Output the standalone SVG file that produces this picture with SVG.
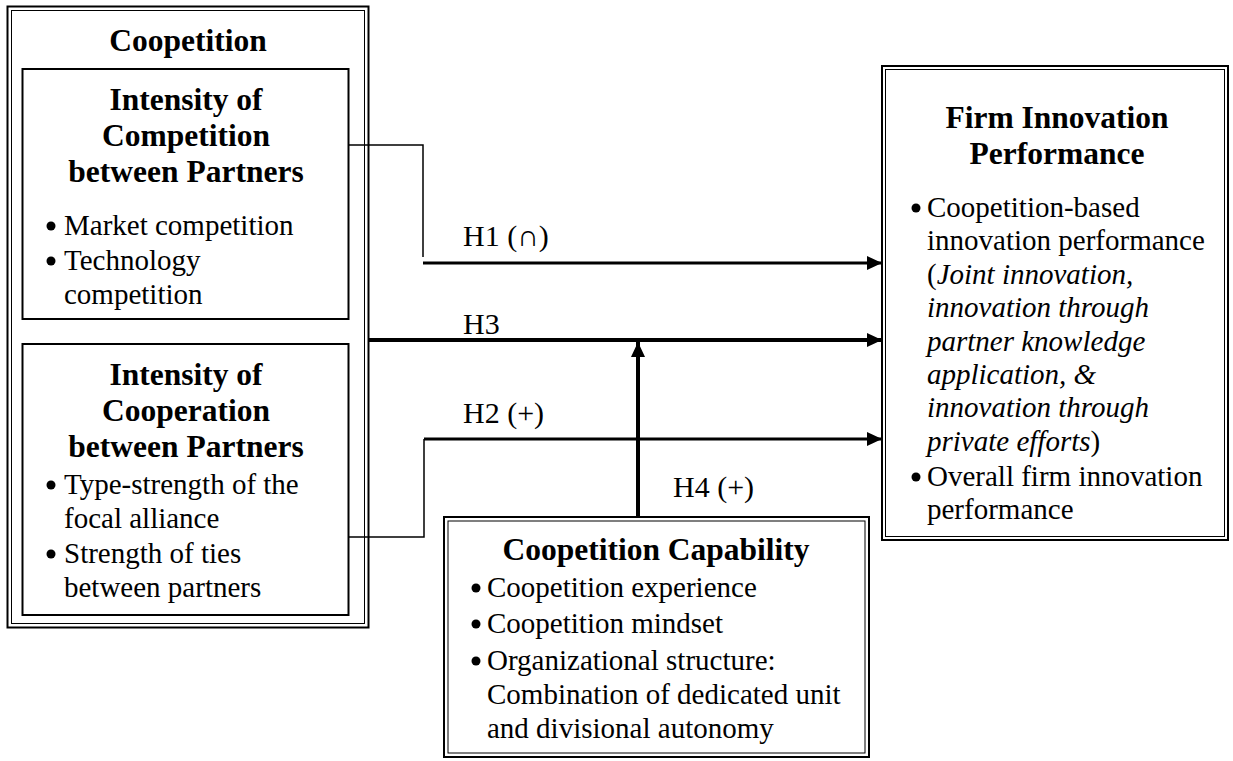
<svg xmlns="http://www.w3.org/2000/svg" width="1233" height="761" viewBox="0 0 1233 761">
  <style>
    text { font-family: "Liberation Serif", "Times New Roman", serif; fill: #000; }
    .head { font-size: 31.5px; font-weight: bold; text-anchor: middle; }
    .body { font-size: 29px; }
    .lab { font-size: 30px; }
    .it { font-style: italic; }
    .outer { fill: none; stroke: #000; stroke-width: 2; }
    .inner { fill: none; stroke: #000; stroke-width: 1; }
    .box { fill: none; stroke: #000; stroke-width: 2; }
    .dot { fill: #000; }
    .thin { fill: none; stroke: #000; stroke-width: 1.5; }
    .arr { fill: none; stroke: #000; stroke-width: 3; marker-end: url(#head); }
    .arr4 { fill: none; stroke: #000; stroke-width: 4; marker-end: url(#head); }
  </style>
  <defs>
    <marker id="head" markerUnits="userSpaceOnUse" markerWidth="16" markerHeight="16" refX="15" refY="7" orient="auto">
      <path d="M0,0 L15,7 L0,14 Z" fill="#000"/>
    </marker>
  </defs>
  <rect width="1233" height="761" fill="#fff"/>

  <!-- Coopetition container with its two sub-constructs -->
  <g id="coopetition">
    <rect class="outer" x="7.5" y="6.5" width="361" height="621"/>
    <rect class="inner" x="11.5" y="10.5" width="353" height="613"/>
    <text class="head" x="188" y="51">Coopetition</text>
  </g>

  <g id="competition">
    <rect class="box" x="22.5" y="69" width="326" height="250"/>
    <text class="head" x="186" y="110">Intensity of</text>
    <text class="head" x="186" y="146">Competition</text>
    <text class="head" x="186" y="182">between Partners</text>
    <circle class="dot" cx="51" cy="226" r="4.5"/>
    <text class="body" x="64" y="235">Market competition</text>
    <circle class="dot" cx="51" cy="261" r="4.5"/>
    <text class="body" x="64" y="270">Technology</text>
    <text class="body" x="64" y="304">competition</text>
  </g>

  <g id="cooperation">
    <rect class="box" x="22.5" y="344" width="326" height="271"/>
    <text class="head" x="186" y="385">Intensity of</text>
    <text class="head" x="186" y="421">Cooperation</text>
    <text class="head" x="186" y="457">between Partners</text>
    <circle class="dot" cx="51" cy="485" r="4.5"/>
    <text class="body" x="64" y="494">Type-strength of the</text>
    <text class="body" x="64" y="528">focal alliance</text>
    <circle class="dot" cx="51" cy="554" r="4.5"/>
    <text class="body" x="64" y="563">Strength of ties</text>
    <text class="body" x="64" y="597">between partners</text>
  </g>

  <!-- Outcome construct -->
  <g id="performance">
    <rect class="outer" x="882" y="66" width="346" height="474"/>
    <rect class="inner" x="885.5" y="69.5" width="339" height="467"/>
    <text class="head" x="1057" y="128">Firm Innovation</text>
    <text class="head" x="1057" y="164">Performance</text>
    <circle class="dot" cx="916" cy="208" r="4.5"/>
    <text class="body" x="927" y="217">Coopetition-based</text>
    <text class="body" x="927" y="250">innovation performance</text>
    <text class="body" x="927" y="284">(<tspan class="it">Joint innovation,</tspan></text>
    <text class="body it" x="927" y="317">innovation through</text>
    <text class="body it" x="927" y="351">partner knowledge</text>
    <text class="body it" x="927" y="384">application, &amp;</text>
    <text class="body it" x="927" y="417">innovation through</text>
    <text class="body" x="927" y="451"><tspan class="it">private efforts</tspan>)</text>
    <circle class="dot" cx="916" cy="477" r="4.5"/>
    <text class="body" x="927" y="486">Overall firm innovation</text>
    <text class="body" x="927" y="519">performance</text>
  </g>

  <!-- Moderator construct -->
  <g id="capability">
    <rect class="outer" x="444" y="517" width="425" height="240"/>
    <rect class="inner" x="448" y="521" width="417" height="232"/>
    <text class="head" x="656" y="560">Coopetition Capability</text>
    <circle class="dot" cx="476" cy="588" r="4.5"/>
    <text class="body" x="487" y="597">Coopetition experience</text>
    <circle class="dot" cx="476" cy="624" r="4.5"/>
    <text class="body" x="487" y="633">Coopetition mindset</text>
    <circle class="dot" cx="476" cy="661" r="4.5"/>
    <text class="body" x="487" y="670">Organizational structure:</text>
    <text class="body" x="487" y="704">Combination of dedicated unit</text>
    <text class="body" x="487" y="738">and divisional autonomy</text>
  </g>

  <!-- Hypothesised paths -->
  <g id="connectors">
    <path class="thin" d="M348,145 H423 V257"/>
    <path class="arr" d="M423,263 H882"/>
    <path class="arr4" d="M369,340 H882"/>
    <path class="thin" d="M348,537 H424 V439"/>
    <path class="arr" d="M424,439 H882"/>
    <path class="arr4" d="M638,517 V342"/>
    <text class="lab" x="463" y="246">H1 (∩)</text>
    <text class="lab" x="463" y="334">H3</text>
    <text class="lab" x="463" y="423">H2 (+)</text>
    <text class="lab" x="673" y="497">H4 (+)</text>
  </g>
</svg>
